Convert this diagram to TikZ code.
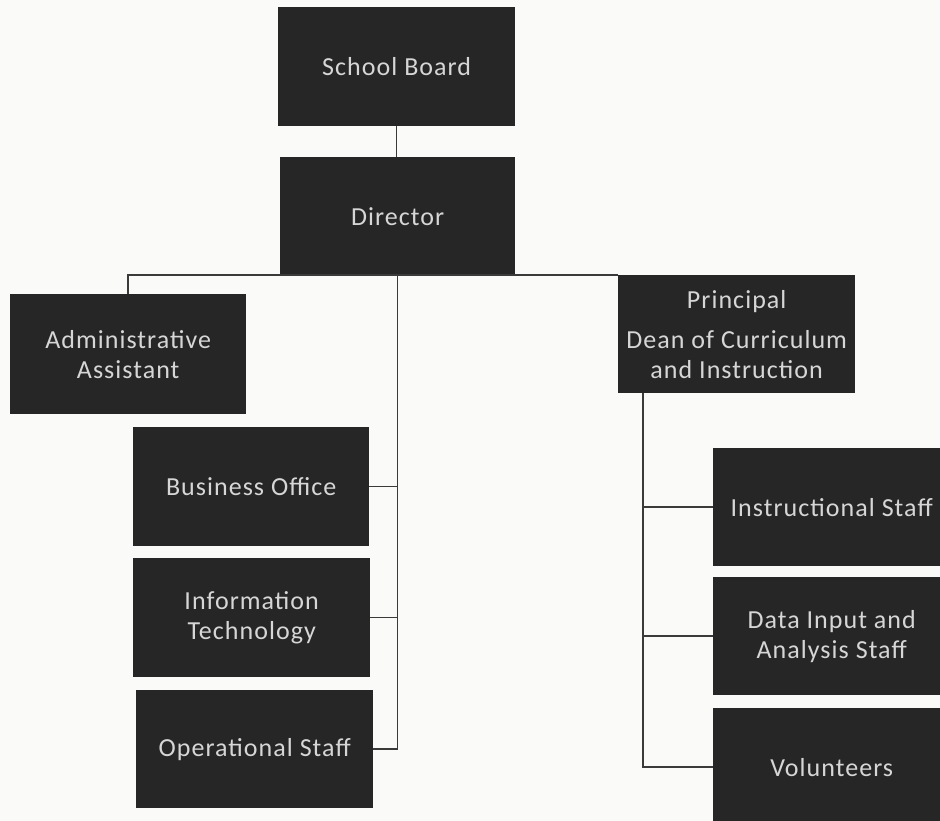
\documentclass[tikz,border=0pt]{standalone}
\usepackage{fontspec}
\setmainfont[LetterSpace=4]{Carlito}
\definecolor{boxgray}{HTML}{262626}
\definecolor{boxtext}{HTML}{D6D6D6}
\definecolor{linegray}{HTML}{3A3A3A}
\definecolor{paper}{HTML}{FAFAF8}
\begin{document}
\begin{tikzpicture}[x=1pt,y=-1pt,
    box/.style={fill=boxgray, text=boxtext, anchor=north west, inner sep=0pt,
                minimum width=237pt, minimum height=119pt, align=center,
                font=\fontsize{26}{30}\selectfont},
    wire/.style={draw=linegray, line width=1.5pt}]
    \fill[paper] (0,0) rectangle (940,821);
    \useasboundingbox (0,0) rectangle (940,821);

    % top of the chart
    \node[box] (sb) at (278,7) {School Board};
    \node[box, minimum width=235pt, minimum height=118pt] (dir) at (280,157) {Director};
    \node[box, minimum width=236pt, minimum height=120pt] (admin) at (10,294) {Administrative\\Assistant};
    \node[box, minimum height=118pt] (prin) at (618,275) {Principal\\[10pt]Dean of Curriculum\\and Instruction};

    % left column under the director
    \node[box, minimum width=236pt] (bus) at (133,427) {Business Office};
    \node[box] (it) at (133,558) {Information\\Technology};
    \node[box, minimum height=118pt] (ops) at (136,690) {Operational Staff};

    % right column under the principal
    \node[box, minimum height=118pt] (instr) at (713,448) {Instructional Staff};
    \node[box, minimum height=118pt] (data) at (713,577) {Data Input and\\Analysis Staff};
    \node[box, minimum height=118pt] (vol) at (713,708) {Volunteers};
    \coordinate (pv) at (643,393);

    \draw[wire] (sb.south) -- (sb.south |- dir.north);
    \draw[wire] (admin.north) |- (prin.north west);
    \draw[wire] (dir.south) |- (ops.east);
    \draw[wire] (bus.east) -- (bus.east -| dir.south);
    \draw[wire] (it.east) -- (it.east -| dir.south);
    \draw[wire] (pv) |- (vol.west);
    \draw[wire] (instr.west) -- (instr.west -| pv);
    \draw[wire] (data.west) -- (data.west -| pv);
\end{tikzpicture}
\end{document}
